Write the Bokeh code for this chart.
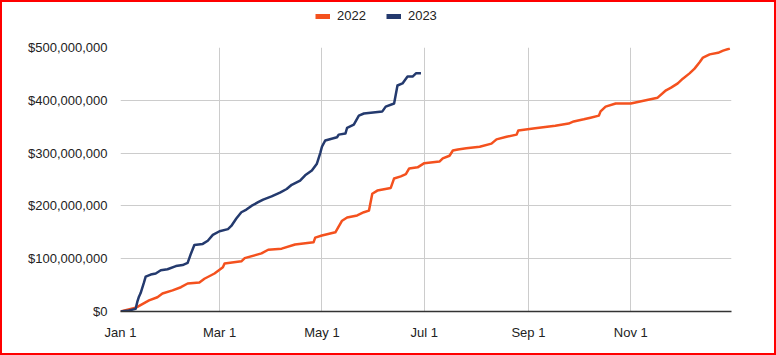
from bokeh.plotting import figure
from bokeh.layouts import column
from bokeh.models import (Range1d, NumeralTickFormatter, FixedTicker, Legend, LegendItem)
from bokeh.embed import file_html
from bokeh.resources import INLINE

# Day of year (0 = Jan 1) and cumulative amount (millions of $)
days_2022 = [0, 9, 17, 22, 25, 31, 36, 40, 47, 50, 56, 61, 62, 72, 74, 84, 88, 96, 104, 115,
             116, 120, 128, 132, 135, 141, 145, 148, 150, 153, 161, 163, 167, 170, 172, 177,
             181, 190, 192, 196, 198, 201, 206, 214, 221, 224, 230, 236, 237, 247, 259, 267,
             270, 276, 280, 285, 286, 289, 295, 304, 313, 320, 325, 328, 332, 335, 339, 342,
             345, 347, 351, 356, 359, 363]
values_2022 = [0, 7, 21, 27, 34, 40, 46, 53, 55, 62, 72, 84, 91, 95, 101, 110, 117, 119, 127, 131,
               140, 144, 150, 172, 178, 182, 188, 191, 223, 229, 234, 252, 256, 260, 271, 273,
               281, 284, 290, 295, 305, 307, 309, 312, 318, 326, 331, 335, 343, 347, 352, 356,
               360, 364, 367, 371, 379, 388, 394, 394, 400, 405, 419, 424, 432, 441, 451, 460,
               472, 481, 487, 490, 494, 498]

days_2023 = [0, 5, 9, 10, 11, 12, 14, 15, 18, 21, 24, 28, 33, 37, 40, 42, 44, 49, 52, 55, 59,
             64, 66, 69, 72, 75, 78, 82, 85, 90, 95, 99, 102, 107, 110, 114, 117, 119, 120, 122,
             129, 130, 134, 135, 139, 142, 145, 156, 158, 163, 165, 168, 171, 174, 176, 179]
values_2023 = [0, 2, 5, 18, 28, 35, 55, 66, 70, 72, 78, 80, 86, 88, 92, 110, 126, 128, 134, 145, 152,
               156, 162, 176, 188, 193, 200, 207, 212, 218, 225, 232, 240, 248, 258, 267, 280, 300, 312, 324,
               330, 335, 337, 348, 354, 371, 375, 379, 388, 394, 428, 432, 445, 445, 451, 451]

series_labels = ["2022", "2023"]
tick_days = [0, 59, 120, 181, 243, 304]
tick_labels = ["Jan 1", "Mar 1", "May 1", "Jul 1", "Sep 1", "Nov 1"]
y_ticks = [0, 100, 200, 300, 400, 500]

ORANGE = "#f4511e"
NAVY = "#243a6e"
FONT = "Liberation Sans"

# ---- legend strip on top ----
lf = figure(width=772, height=37, output_backend="svg", toolbar_location=None,
            x_range=Range1d(0, 1), y_range=Range1d(0, 1), min_border=0)
lf.axis.visible = False
lf.grid.visible = False
lf.outline_line_color = None
lf.border_fill_color = "white"
# off-range dummy renderers, used only for the legend swatches
s22 = lf.line([-2, -1], [-2, -2], line_color=ORANGE, line_width=5)
s23 = lf.line([-2, -1], [-2, -2], line_color=NAVY, line_width=5)
legend = Legend(items=[LegendItem(label=series_labels[0], renderers=[s22]),
                       LegendItem(label=series_labels[1], renderers=[s23])],
                orientation="horizontal", location=(195, 16),
                label_text_font=FONT, label_text_font_size="13px", label_text_color="#222222",
                glyph_width=15, glyph_height=10, spacing=20, padding=0, margin=0,
                border_line_color=None, background_fill_alpha=0, label_standoff=7)
lf.add_layout(legend, "center")

# ---- main chart ----
p = figure(width=772, height=314, output_backend="svg", toolbar_location=None,
           x_range=Range1d(0, 364), y_range=Range1d(0, 500e6),
           min_border_left=118, min_border_right=43, min_border_top=8, min_border_bottom=42)
p.outline_line_color = None
p.background_fill_color = "white"
p.border_fill_color = "white"

p.line(days_2022, [v * 1e6 for v in values_2022], line_color=ORANGE, line_width=2.5, line_join="round")
p.line(days_2023, [v * 1e6 for v in values_2023], line_color=NAVY, line_width=2.5, line_join="round")

p.xaxis.ticker = FixedTicker(ticks=tick_days)
p.xaxis.major_label_overrides = {d: t for d, t in zip(tick_days, tick_labels)}
p.yaxis.ticker = FixedTicker(ticks=[v * 1e6 for v in y_ticks])
p.yaxis.formatter = NumeralTickFormatter(format="$0,0")

for ax in (p.xaxis[0], p.yaxis[0]):
    ax.major_tick_line_color = None
    ax.minor_tick_line_color = None
    ax.major_label_text_font = FONT
    ax.major_label_text_font_size = "13px"
    ax.major_label_text_color = "#222222"
p.yaxis.axis_line_color = None
p.xaxis.axis_line_color = "#333333"
p.xaxis.axis_line_width = 1.5
p.xaxis.major_label_standoff = 7
p.yaxis.major_label_standoff = 7

p.xgrid.ticker = FixedTicker(ticks=tick_days)
p.ygrid.ticker = FixedTicker(ticks=[v * 1e6 for v in y_ticks])
p.grid.grid_line_color = "#cccccc"
p.grid.grid_line_width = 1

layout = column(lf, p, spacing=0)
layout.styles = {"border": "2px solid #ff0000"}

open("out.html", "w").write(file_html(layout, INLINE))
